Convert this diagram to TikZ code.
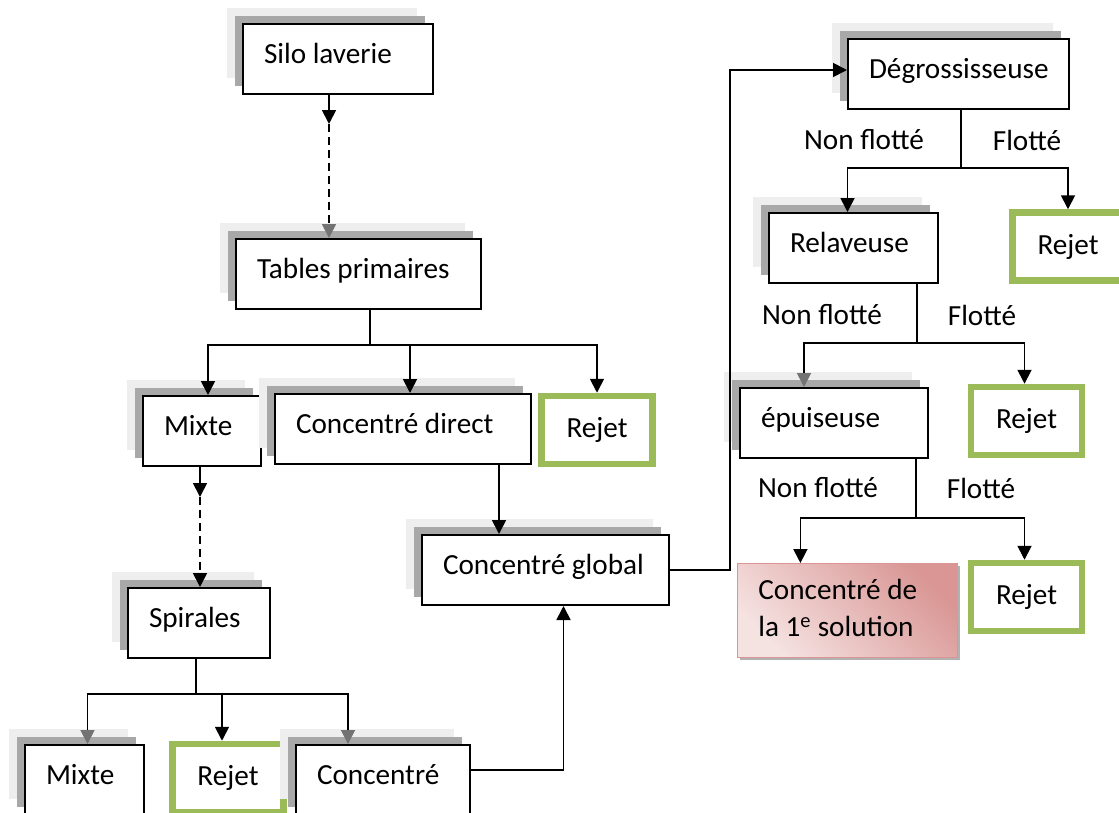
\documentclass[tikz,border=0pt]{standalone}
\usepackage{fontspec}
\setmainfont{Carlito}
\usetikzlibrary{arrows.meta,shadows}

\definecolor{rejetgreen}{HTML}{9BBB59}
\definecolor{pinkdark}{HTML}{D99694}
\definecolor{pinklight}{HTML}{F5E3E2}
\definecolor{shadelight}{HTML}{EEEEEE}
\definecolor{shadedark}{HTML}{A8A8A8}
\newcommand\flowfont{\fontsize{29.2}{37}\selectfont}
\newcommand\stagelabel[2]{\makebox[#1][l]{#2}}

\tikzset{
  stage/.style={draw,line width=2pt,fill=white,anchor=north west,minimum height=70pt,inner xsep=21pt,text height=22pt,text depth=13pt,
    general shadow={shadow xshift=-16pt,shadow yshift=16pt,fill=shadelight,draw=none},
    general shadow={shadow xshift=-8pt,shadow yshift=8pt,fill=shadedark,draw=none}},
  rejet/.style={draw=rejetgreen,line width=6.5pt,fill=white,minimum width=111pt,minimum height=68pt,text height=22pt,text depth=7pt},
  final/.style={draw=pinkdark,line width=0.8pt,anchor=north west,minimum width=220pt,minimum height=94pt,inner xsep=21pt,
    top color=pinkdark,bottom color=pinklight,shading angle=-45,
    general shadow={shadow xshift=3pt,shadow yshift=-3pt,fill=gray!60,draw=none}},
  link/.style={line width=1.8pt},
  arr/.style={link,-{Triangle[width=14pt,length=14pt]}},
  arrg/.style={link,-{Triangle[width=14pt,length=14pt,color=black!55]}},
  flow/.style={inner sep=0pt}
}

\begin{document}
\begin{tikzpicture}[x=1pt,y=-1pt,every node/.style={font=\flowfont}]
  \useasboundingbox (0,0) rectangle (1119,812);

  \node[stage] (silo) at (242,23) {\stagelabel{148pt}{Silo laverie}};
  \node[stage] (tables) at (235,238) {\stagelabel{203pt}{Tables primaires}};
  \node[stage] (mixte) at (142,395) {\stagelabel{76pt}{Mixte}};
  \node[stage] (cdirect) at (274,393) {\stagelabel{214pt}{Concentré direct}};
  \node[rejet] (rejet1) at (597,430) {Rejet};
  \node[stage] (spirales) at (127,587) {\stagelabel{100pt}{Spirales}};
  \node[stage] (cglobal) at (421,534) {\stagelabel{205pt}{Concentré global}};
  \node[stage] (mixte2) at (24,744) {\stagelabel{77pt}{Mixte}};
  \node[rejet] (rejet2) at (228,778) {Rejet};
  \node[stage] (conc2) at (295,744) {\stagelabel{132pt}{Concentré}};

  \node[stage] (degross) at (847,38) {\stagelabel{179pt}{Dégrossisseuse}};
  \node[stage] (relav) at (768,212) {\stagelabel{127pt}{Relaveuse}};
  \node[rejet] (rejet3) at (1068,246.5) {Rejet};
  \node[stage] (epuis) at (739,387) {\stagelabel{146pt}{épuiseuse}};
  \node[rejet] (rejet4) at (1026.5,421) {Rejet};
  \node[final] (sol1) at (737,563) {\stagelabel{178pt}{\begin{tabular}{@{}l@{}}Concentré de\\la 1\textsuperscript{e} solution\end{tabular}}};
  \node[rejet] (rejet5) at (1026.5,597) {Rejet};

  \node[flow] (nf1) at (864,140) {Non flotté};
  \node[flow] (fl1) at (1027,140) {Flotté};
  \node[flow] (nf2) at (822,315) {Non flotté};
  \node[flow] (fl2) at (982,315) {Flotté};
  \node[flow] (nf3) at (818,488) {Non flotté};
  \node[flow] (fl3) at (981,488) {Flotté};

  \coordinate (s1) at (329,124);
  \draw[arr] (silo.south -| s1) -- (s1);
  \draw[arrg,dash pattern=on 8pt off 5pt] (s1) -- (s1 |- tables.north);

  \coordinate (t1) at (370,345);
  \draw[link] (tables.south -| t1) -- (t1);
  \draw[arr] (t1) -| ([xshift=6pt]mixte.north);
  \draw[arr] (t1) -| ([xshift=7pt]cdirect.north);
  \draw[arr] (t1) -| (rejet1.north);

  \coordinate (s2) at (200,497);
  \draw[arr] (mixte.south -| s2) -- (s2);
  \draw[arr,dash pattern=on 8pt off 5pt] (s2) -- (s2 |- spirales.north);

  \coordinate (p1) at (196,694);
  \draw[link] (spirales.south -| p1) -- (p1);
  \draw[arrg] (p1) -| ([xshift=3pt]mixte2.north);
  \draw[arr] (p1) -| ([xshift=-6pt]rejet2.north);
  \draw[arrg] (p1) -| ([xshift=-35pt]conc2.north);

  \coordinate (c1) at (499,0);
  \draw[arr] (cdirect.south -| c1) -- (cglobal.north -| c1);
  \draw[arr] ([yshift=10pt]conc2.east) -| ([xshift=18pt]cglobal.south);
  \draw[arr] (cglobal.east) -- ++(60,0) |- ([yshift=4pt]degross.west);

  \coordinate (d1) at (961,168);
  \draw[link] (degross.south -| d1) -- (d1);
  \draw[arr] (d1) -| ([xshift=-6pt]relav.north);
  \draw[arr] (d1) -| (rejet3.north);

  \coordinate (r1) at (917,343);
  \draw[link] (relav.south -| r1) -- (r1);
  \draw[arrg] (r1) -| ([xshift=-30pt]epuis.north);
  \draw[arr] (r1) -| ([xshift=-2pt]rejet4.north);

  \coordinate (e1) at (916,518);
  \draw[link] (epuis.south -| e1) -- (e1);
  \draw[arr] (e1) -| ([xshift=-47pt]sol1.north);
  \draw[arr] (e1) -| ([xshift=-2pt]rejet5.north);
\end{tikzpicture}
\end{document}
